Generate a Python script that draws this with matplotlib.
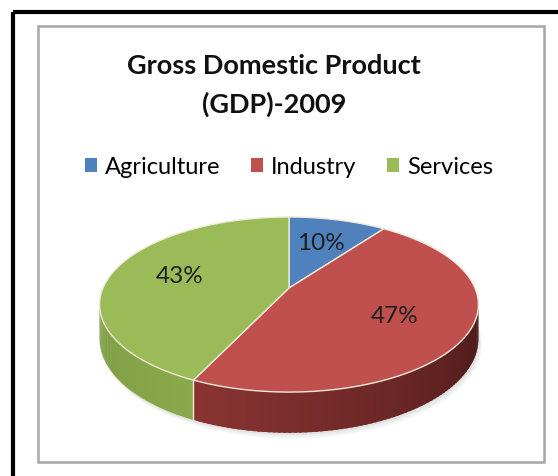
import numpy as np
import matplotlib.pyplot as plt
from matplotlib.patches import Polygon, Rectangle, Patch
from matplotlib.colors import to_rgb

# data
sectors = ['Agriculture', 'Industry', 'Services']
shares = [10, 47, 43]
labels = ['10%', '47%', '43%']

top_colors = ['#4F81BD', '#C0504D', '#9BBB59']
side_left = ['#3A5F8C', '#8A3432', '#7E9C43']
side_right = ['#2C486B', '#4A1A19', '#8AA94C']

# pie geometry (pixels)
cx, cy = 289, 288
R, S = 186, 84.4
p = 0.189
H = 33


def proj(theta_deg, r=1.0, z=0.0):
    t = np.radians(theta_deg)
    u = r * np.cos(t)
    v = r * np.sin(t)
    w = 1 + p * v
    return cx + R * u / w, cy - S * v / w + H * z / w


def mix(c1, c2, f):
    a, b = np.array(to_rgb(c1)), np.array(to_rgb(c2))
    return a + (b - a) * f


fig = plt.figure(figsize=(5.58, 4.76), dpi=100)
ax = fig.add_axes([0, 0, 1, 1])
ax.set_xlim(0, 558)
ax.set_ylim(476, 0)
ax.axis('off')

# frames
ax.add_patch(Rectangle((13, 12), 600, 600, fill=False, ec='black', lw=3))
ax.add_patch(Rectangle((37.5, 26), 506, 436, fill=False, ec='#A6A6A6', lw=1.8))

ax.text(274, 66, 'Gross Domestic Product', ha='center', va='center',
        fontsize=19.5, fontweight='bold', family='Lato', color='#111111')
ax.text(274, 104, '(GDP)-2009', ha='center', va='center',
        fontsize=19.5, fontweight='bold', family='Lato', color='#111111')

# slice angle ranges, clockwise from 12 o'clock
ends = 90 - 3.6 * np.cumsum(shares)
starts = np.concatenate([[90], ends[:-1]])

vis_lo, vis_hi = -169.1, -10.9

# soft shadow under the pie
arc = np.linspace(vis_lo - 12, vis_hi + 12, 120)
for k, a in zip([6, 4, 2], [0.06, 0.08, 0.1]):
    pts = [proj(t, 1.0, 1.0) for t in arc]
    pts = [(x + k * 0.6, y + k) for x, y in pts]
    top_pts = [proj(t, 0.9, 0.0) for t in arc[::-1]]
    ax.add_patch(Polygon(pts + top_pts, closed=True, fc='gray', ec='none', alpha=a))

# side walls with gradient
for i in range(len(shares)):
    hi = min(starts[i], vis_hi)
    lo = max(ends[i], vis_lo)
    if hi <= lo:
        continue
    steps = np.linspace(lo, hi, 80)
    d = steps[1] - steps[0]
    for j in range(len(steps) - 1):
        t0 = steps[j]
        t1 = min(steps[j + 1] + d * 0.6, hi)
        quad = [proj(t0), proj(t1), proj(t1, 1, 1), proj(t0, 1, 1)]
        f = j / (len(steps) - 2)
        col = mix(side_left[i], side_right[i], f)
        ax.add_patch(Polygon(quad, closed=True, fc=col, ec='none'))
    # seam at the left end of the wall
    if lo > vis_lo:
        x0, y0 = proj(lo)
        x1, y1 = proj(lo, 1, 1)
        ax.plot([x0, x1], [y0, y1], color='#EFE9D8', lw=1.0)

# top face
for i in range(len(shares)):
    arc = np.linspace(starts[i], ends[i], 100)
    pts = [proj(t) for t in arc] + [proj(0, 0)]
    ax.add_patch(Polygon(pts, closed=True, fc=top_colors[i], ec='#EFE9D8', lw=1.0))

# percentage labels
for i in range(len(shares)):
    mid = (starts[i] + ends[i]) / 2
    x, y = proj(mid, 0.62)
    ax.text(x, y, labels[i], ha='center', va='center', fontsize=17.5,
            family='Lato', color='#1F1F1F')

handles = [Patch(fc=c, ec='none') for c in top_colors]
ax.legend(handles, sectors, loc='center', bbox_to_anchor=(289 / 558, 1 - 167 / 476),
          ncol=3, frameon=False, prop={'family': 'Lato', 'size': 17},
          handlelength=0.5, handleheight=0.5, handletextpad=0.35, columnspacing=1.3)

fig.savefig('out.png', dpi=100)
